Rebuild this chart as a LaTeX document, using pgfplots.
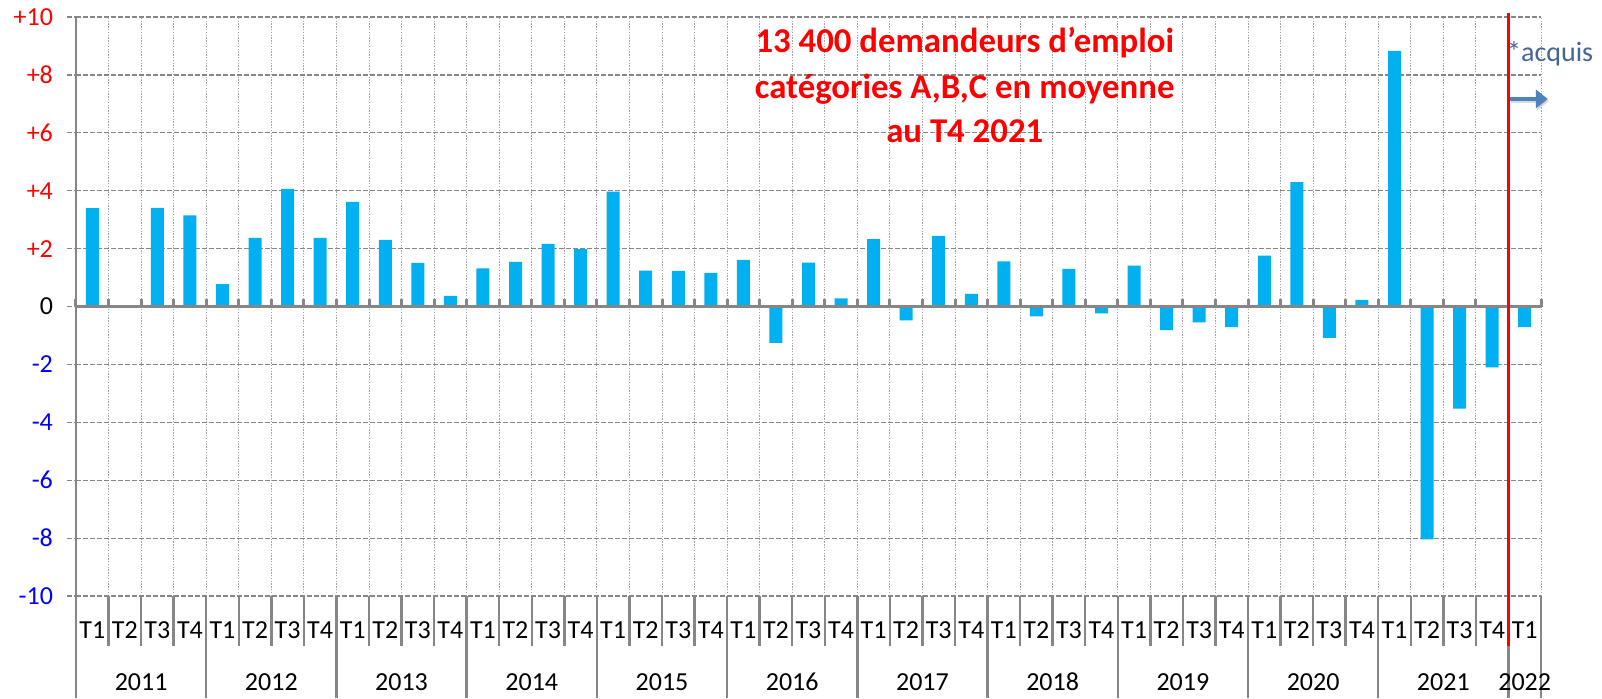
\documentclass[border=0pt]{standalone}
\usepackage{pgfplots}
\pgfplotsset{compat=1.18}
\usepackage{fontspec}
\setmainfont{Carlito}
\usetikzlibrary{arrows.meta}
\definecolor{barblue}{RGB}{0,176,240}
\definecolor{axgray}{RGB}{134,134,134}
\definecolor{gridgray}{RGB}{165,165,165}
\definecolor{acqblue}{RGB}{68,100,150}
\definecolor{arrowblue}{RGB}{79,129,189}
\definecolor{negblue}{RGB}{0,0,255}
\definecolor{posred}{RGB}{255,0,0}
\begin{document}
\begin{tikzpicture}
\begin{axis}[
  at={(0,0)}, anchor=south west,
  scale only axis, width=732.5pt, height=289.5pt,
  xmin=-0.5, xmax=44.5, ymin=-10, ymax=10,
  clip=false,
  axis line style={draw=none},
  xtick={0,...,44},
  xticklabels={T1,T2,T3,T4,T1,T2,T3,T4,T1,T2,T3,T4,T1,T2,T3,T4,T1,T2,T3,T4,T1,T2,T3,T4,T1,T2,T3,T4,T1,T2,T3,T4,T1,T2,T3,T4,T1,T2,T3,T4,T1,T2,T3,T4,T1},
  xtick style={draw=none},
  xticklabel style={anchor=center, yshift=-17pt, font=\fontsize{13}{15}\selectfont},
  minor xtick={-0.5,0.5,...,44.5},
  minor tick length=0pt,
  xminorgrids,
  minor x grid style={gridgray, line width=0.5pt, dash pattern=on 0.7pt off 0.7pt},
  ytick={-10,-8,...,10},
  yticklabels={\textcolor{negblue}{-10},\textcolor{negblue}{-8},\textcolor{negblue}{-6},\textcolor{negblue}{-4},\textcolor{negblue}{-2},0,\textcolor{posred}{+2},\textcolor{posred}{+4},\textcolor{posred}{+6},\textcolor{posred}{+8},\textcolor{posred}{+10}},
  ymajorgrids,
  major y grid style={axgray, line width=0.6pt, dash pattern=on 2.5pt off 1pt},
  ytick pos=left,
  ytick align=outside,
  ytick style={axgray, line width=0.6pt, dash pattern=on 2.5pt off 1pt},
  major tick length=4.5pt,
  yticklabel style={font=\fontsize{13}{15}\selectfont, xshift=-3.5pt},
]
\addplot[ybar, bar width=6.5pt, fill=barblue, draw=none] coordinates {
(0,3.40) (1,0) (2,3.41) (3,3.15)
(4,0.77) (5,2.37) (6,4.06) (7,2.37)
(8,3.61) (9,2.30) (10,1.51) (11,0.37)
(12,1.32) (13,1.54) (14,2.16) (15,1.98)
(16,3.97) (17,1.24) (18,1.23) (19,1.16)
(20,1.61) (21,-1.26) (22,1.52) (23,0.28)
(24,2.33) (25,-0.48) (26,2.44) (27,0.44)
(28,1.56) (29,-0.34) (30,1.30) (31,-0.24)
(32,1.41) (33,-0.82) (34,-0.55) (35,-0.71)
(36,1.76) (37,4.30) (38,-1.08) (39,0.23)
(40,8.83) (41,-8.04) (42,-3.53) (43,-2.10)
(44,-0.71)
};
% zero line and its ticks
\draw[axgray, line width=1.5pt] (axis cs:-0.5,0) -- (axis cs:44.5,0);
\pgfplotsinvokeforeach{-0.5,0.5,...,44.5}{
  \draw[axgray, line width=1.5pt] (axis cs:#1,0) -- ++(0pt,4pt);
}
% left axis line
\draw[axgray, line width=1.25pt] (axis cs:-0.5,10) -- (axis cs:-0.5,-10) -- ++(0pt,-51pt);
% quarter separators
\pgfplotsinvokeforeach{0.5,1.5,...,44.5}{
  \draw[axgray, line width=1.25pt] (axis cs:#1,-10) -- ++(0pt,-25pt);
}
% year separators
\pgfplotsinvokeforeach{3.5,7.5,...,39.5}{
  \draw[axgray, line width=1.25pt] (axis cs:#1,-10) -- ++(0pt,-51pt);
}
\draw[axgray, line width=1.25pt] (axis cs:43.5,-10) -- ++(0pt,-51pt);
\draw[axgray, line width=1.25pt] (axis cs:44.5,-10) -- ++(0pt,-51pt);
% year labels
\begin{scope}[every node/.style={font=\fontsize{13}{15}\selectfont, anchor=center, yshift=-43pt}]
\node at (axis cs:1.5,-10) {2011};
\node at (axis cs:5.5,-10) {2012};
\node at (axis cs:9.5,-10) {2013};
\node at (axis cs:13.5,-10) {2014};
\node at (axis cs:17.5,-10) {2015};
\node at (axis cs:21.5,-10) {2016};
\node at (axis cs:25.5,-10) {2017};
\node at (axis cs:29.5,-10) {2018};
\node at (axis cs:33.5,-10) {2019};
\node at (axis cs:37.5,-10) {2020};
\node at (axis cs:41.5,-10) {2021};
\node at (axis cs:44,-10) {2022};
\end{scope}
% red line
\draw[posred, line width=1.5pt] (axis cs:43.5,10.14) -- (axis cs:43.5,-10) -- ++(0pt,-25pt);
% title
\begin{scope}[every node/.style={anchor=base, text=posred, inner sep=0pt, font=\fontsize{17.4}{20}\bfseries\selectfont}]
\node at (axis cs:26.8,8.76) {13 400 demandeurs d’emploi};
\node at (axis cs:26.8,7.20) {catégories A,B,C en moyenne};
\node at (axis cs:26.8,5.65) {au T4 2021};
\end{scope}
% acquis
\node[anchor=base west, inner sep=0pt, text=acqblue, font=\fontsize{14}{16}\selectfont] at (axis cs:43.45,8.45) {*acquis};
\draw[black!25, opacity=0.6, line width=2pt, -{Triangle[length=6pt,width=9pt]}] (axis cs:43.58,7.10) -- (axis cs:44.75,7.10);
\draw[arrowblue, line width=2pt, -{Triangle[length=6pt,width=9pt]}] (axis cs:43.54,7.17) -- (axis cs:44.71,7.17);
\end{axis}
\pgfresetboundingbox
\useasboundingbox (-38pt,-51pt) rectangle (763pt,298pt);
\end{tikzpicture}
\end{document}
